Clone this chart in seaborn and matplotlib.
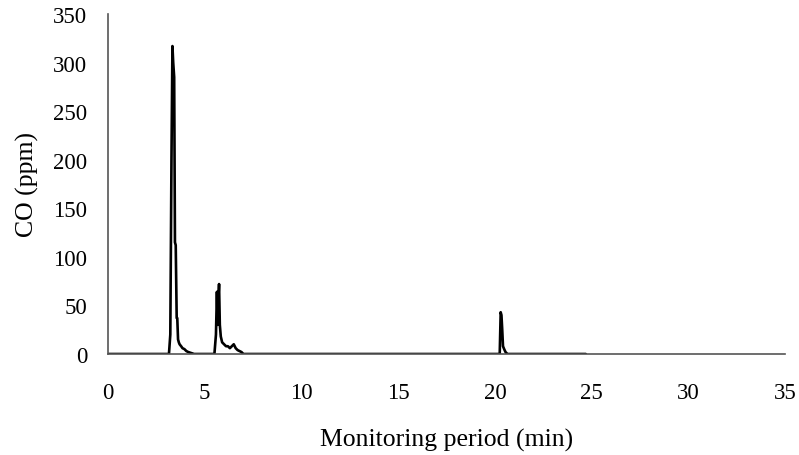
import matplotlib
matplotlib.use("Agg")
import matplotlib.pyplot as plt
import seaborn as sns
import pandas as pd

# Data (time in minutes, CO in ppm)
time_min = [0.0, 3.15, 3.22, 3.28, 3.33, 3.37, 3.42, 3.46, 3.50, 3.55, 3.58, 3.62, 3.66,
            3.70, 3.78, 3.85, 3.95, 4.05, 4.15, 4.30, 4.45,
            5.50, 5.58, 5.63, 5.67, 5.70, 5.74, 5.78, 5.83, 5.90, 6.00, 6.10, 6.20,
            6.30, 6.40, 6.50, 6.60, 6.70, 6.80, 6.90, 7.00,
            20.25, 20.30, 20.34, 20.38, 20.42, 20.48, 20.55, 20.65, 24.7]
co_ppm = [0, 0, 20, 200, 317, 300, 285, 115, 112, 37, 37, 15, 12,
          10, 8, 6, 5, 3, 2, 1, 0,
          0, 20, 64, 30, 55, 72, 30, 18, 12, 10, 8, 8,
          6, 8, 10, 6, 4, 3, 2, 0,
          0, 43, 40, 25, 8, 5, 2, 0, 0]

x_ticks = [0, 5, 10, 15, 20, 25, 30, 35]
y_ticks = [0, 50, 100, 150, 200, 250, 300, 350]

df = pd.DataFrame({"time": time_min, "co": co_ppm})

sns.set_theme(style="white")
plt.rcParams["font.family"] = ["Liberation Serif", "DejaVu Serif"]

fig = plt.figure(figsize=(7.99, 4.56), dpi=100)
ax = fig.add_axes([0.1352, 0.2215, 0.8473, 0.7456])

sns.lineplot(data=df, x="time", y="co", ax=ax, color="black", linewidth=1.9,
             sort=False, estimator=None)

ax.set_xlim(0, 35)
ax.set_ylim(0, 350)
ax.set_xticks(x_ticks)
ax.set_yticks(y_ticks)
ax.tick_params(axis="both", labelsize=16.5, labelcolor="black", color="#555555",
               length=5, width=1, direction="out")
ax.tick_params(axis="x", pad=15)
ax.tick_params(axis="y", pad=10)
for s in ["top", "right"]:
    ax.spines[s].set_visible(False)
for s in ["left", "bottom"]:
    ax.spines[s].set_color("#555555")
    ax.spines[s].set_linewidth(1.2)
ax.set_xlabel("Monitoring period (min)", fontsize=18.5, color="black", labelpad=18)
ax.set_ylabel("CO (ppm)", fontsize=18.5, color="black", labelpad=10)

fig.savefig("out.png", dpi=100)
